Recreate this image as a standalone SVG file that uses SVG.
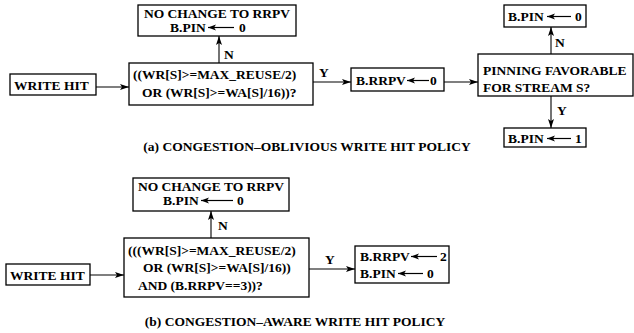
<svg xmlns="http://www.w3.org/2000/svg" width="634" height="333" viewBox="0 0 634 333">
<style>
  text { font-family: "Liberation Serif", "Times New Roman", serif; font-weight: bold; font-size: 13.5px; fill: #000; }
  .box { fill: #fff; stroke: #000; stroke-width: 1.3; }
  .conn { stroke: #000; stroke-width: 1.1; fill: none; marker-end: url(#ah); }
  .ia { stroke: #000; stroke-width: 1.2; fill: none; marker-end: url(#ahs); }
  .mid { text-anchor: middle; }
</style>
<defs>
  <marker id="ah" markerUnits="userSpaceOnUse" markerWidth="10" markerHeight="8" refX="9" refY="3" orient="auto">
    <path d="M0,0 L9,3 L0,6 L2,3 z" fill="#000"/>
  </marker>
  <marker id="ahs" markerUnits="userSpaceOnUse" markerWidth="10" markerHeight="8" refX="8" refY="3" orient="auto">
    <path d="M0,0 L8,3 L0,6 L2,3 z" fill="#000"/>
  </marker>
</defs>
<rect width="634" height="333" fill="#fff"/>

<g id="connectors">
  <line class="conn" x1="96" y1="87" x2="129" y2="87"/>
  <line class="conn" x1="219" y1="63" x2="219" y2="36"/>
  <line class="conn" x1="313" y1="82" x2="351" y2="82"/>
  <line class="conn" x1="444" y1="82" x2="478" y2="82"/>
  <line class="conn" x1="551" y1="54" x2="551" y2="27"/>
  <line class="conn" x1="551" y1="96" x2="551" y2="128"/>
  <line class="conn" x1="90" y1="275" x2="124" y2="275"/>
  <line class="conn" x1="211" y1="238" x2="211" y2="211"/>
  <line class="conn" x1="309" y1="269" x2="355" y2="269"/>
  <text x="224" y="59">N</text>
  <text x="319" y="77">Y</text>
  <text x="555" y="47">N</text>
  <text x="557" y="115">Y</text>
  <text x="218" y="230">N</text>
  <text x="325" y="264">Y</text>
</g>

<g id="a-write-hit">
  <rect class="box" x="10" y="74" width="86" height="21"/>
  <text x="14" y="90">WRITE HIT</text>
</g>
<g id="a-no-change">
  <rect class="box" x="138" y="5" width="158" height="31"/>
  <text class="mid" x="217" y="18">NO CHANGE TO RRPV</text>
  <text x="170" y="32">B.PIN</text>
  <line class="ia" x1="234" y1="27.5" x2="208" y2="27.5"/>
  <text x="239" y="32">0</text>
</g>
<g id="a-condition">
  <rect class="box" x="129" y="63" width="184" height="42"/>
  <text x="133" y="79">((WR[S]&gt;=MAX_REUSE/2)</text>
  <text x="142" y="97">OR (WR[S]&gt;=WA[S]/16))?</text>
</g>
<g id="a-rrpv">
  <rect class="box" x="351" y="68" width="93" height="23"/>
  <text x="356" y="85">B.RRPV</text>
  <line class="ia" x1="429" y1="80.5" x2="407" y2="80.5"/>
  <text x="430" y="85">0</text>
</g>
<g id="a-pinning">
  <rect class="box" x="478" y="54" width="155" height="42"/>
  <text x="483" y="75">PINNING FAVORABLE</text>
  <text x="483" y="92">FOR STREAM S?</text>
</g>
<g id="a-pin0">
  <rect class="box" x="504" y="5" width="82" height="22"/>
  <text x="508" y="21">B.PIN</text>
  <line class="ia" x1="571" y1="16.5" x2="547" y2="16.5"/>
  <text x="575" y="21">0</text>
</g>
<g id="a-pin1">
  <rect class="box" x="504" y="128" width="82" height="19"/>
  <text x="508" y="143">B.PIN</text>
  <line class="ia" x1="571" y1="138.5" x2="547" y2="138.5"/>
  <text x="575" y="143">1</text>
</g>
<text class="mid" x="307" y="151">(a) CONGESTION–OBLIVIOUS WRITE HIT POLICY</text>

<g id="b-write-hit">
  <rect class="box" x="6" y="264" width="84" height="21"/>
  <text x="10" y="280">WRITE HIT</text>
</g>
<g id="b-no-change">
  <rect class="box" x="133" y="178" width="156" height="33"/>
  <text class="mid" x="211" y="191">NO CHANGE TO RRPV</text>
  <text x="163" y="205">B.PIN</text>
  <line class="ia" x1="233" y1="200.5" x2="201" y2="200.5"/>
  <text x="237" y="205">0</text>
</g>
<g id="b-condition">
  <rect class="box" x="124" y="238" width="185" height="59"/>
  <text x="128" y="255">(((WR[S]&gt;=MAX_REUSE/2)</text>
  <text x="143" y="272">OR (WR[S]&gt;=WA[S]/16))</text>
  <text x="138" y="290">AND (B.RRPV==3))?</text>
</g>
<g id="b-result">
  <rect class="box" x="355" y="246" width="94" height="37"/>
  <text x="360" y="261">B.RRPV</text>
  <line class="ia" x1="437" y1="256.5" x2="411" y2="256.5"/>
  <text x="440" y="261">2</text>
  <text x="360" y="278">B.PIN</text>
  <line class="ia" x1="423" y1="273.5" x2="398" y2="273.5"/>
  <text x="427" y="278">0</text>
</g>
<text class="mid" x="295" y="326">(b) CONGESTION–AWARE WRITE HIT POLICY</text>
</svg>
